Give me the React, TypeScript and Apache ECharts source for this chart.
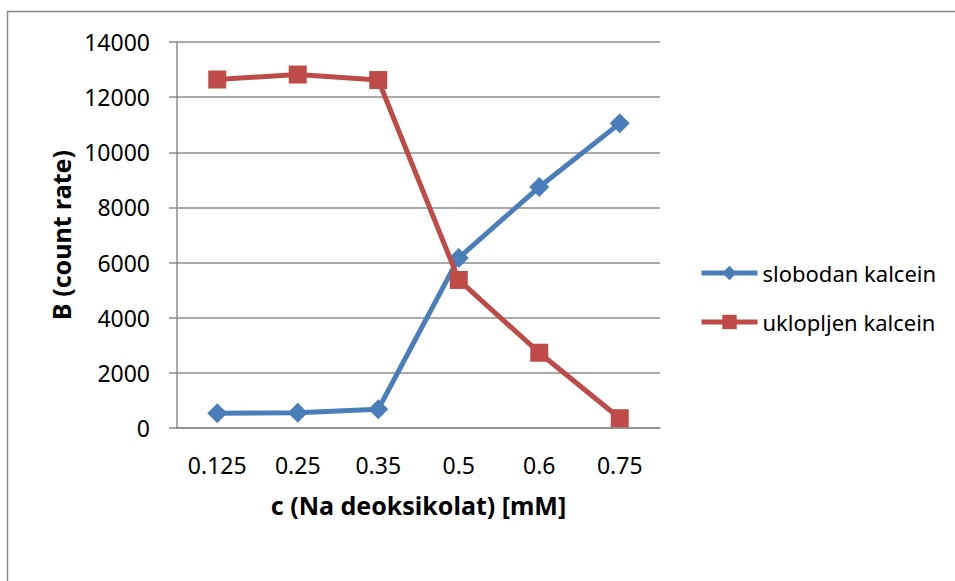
import React, { useEffect, useRef } from "react";
import * as echarts from "echarts";

const categories = ["0.125", "0.25", "0.35", "0.5", "0.6", "0.75"];
const slobodan = [535, 550, 680, 6170, 8740, 11050];
const uklopljen = [12640, 12820, 12620, 5370, 2730, 355];
const seriesNames = ["slobodan kalcein", "uklopljen kalcein"];
const xTitle = "c (Na deoksikolat) [mM]";
const yTitle = "B (count rate)";

const FONT = "'Noto Sans', 'Open Sans', sans-serif";

export default function App() {
  const ref = useRef<HTMLDivElement>(null);
  useEffect(() => {
    if (!ref.current) return;
    const chart = echarts.init(ref.current, undefined, { renderer: "svg" });
    chart.setOption({
      animation: false,
      backgroundColor: "#ffffff",
      textStyle: { fontFamily: FONT },
      graphic: [
        {
          type: "rect",
          shape: { x: 7.5, y: 11.5, width: 2000, height: 2000 },
          style: { fill: "none", stroke: "#8a8a8a", lineWidth: 1.5 },
          silent: true,
        },
      ],
      grid: { left: 177, right: 295, top: 42, bottom: 153, containLabel: false },
      legend: {
        orient: "vertical",
        left: 699,
        top: 262,
        padding: 0,
        itemWidth: 56,
        itemHeight: 18,
        itemGap: 27,
        data: seriesNames,
        lineStyle: { width: 5 },
        textStyle: { fontFamily: FONT, fontSize: 22, color: "#000", lineHeight: 22 },
      },
      xAxis: {
        type: "category",
        data: categories,
        boundaryGap: true,
        name: xTitle,
        nameLocation: "middle",
        nameGap: 64,
        nameTextStyle: { fontFamily: FONT, fontSize: 25, fontWeight: "bold", color: "#000" },
        axisLine: { lineStyle: { color: "#8c8c8c", width: 1.5 } },
        axisTick: { show: false },
        axisLabel: { fontFamily: FONT, fontSize: 23, color: "#000", margin: 25 },
      },
      yAxis: {
        type: "value",
        min: 0,
        max: 14000,
        interval: 2000,
        name: yTitle,
        nameLocation: "middle",
        nameGap: 103,
        nameRotate: 90,
        nameTextStyle: { fontFamily: FONT, fontSize: 25, fontWeight: "bold", color: "#000" },
        axisLine: { show: true, lineStyle: { color: "#8c8c8c", width: 1.5 } },
        axisTick: { show: true, length: 8, lineStyle: { color: "#8c8c8c", width: 1.5 } },
        splitLine: { show: true, lineStyle: { color: "#8c8c8c", width: 1.5 } },
        axisLabel: {
          fontFamily: FONT,
          fontSize: 23,
          color: "#000",
          margin: 27,
          formatter: (v: number) => String(v),
        },
      },
      series: [
        {
          name: seriesNames[0],
          type: "line",
          data: slobodan,
          symbol: "diamond",
          symbolSize: 20,
          lineStyle: { color: "#4a7ebb", width: 5 },
          itemStyle: { color: "#4a7ebb" },
          z: 3,
        },
        {
          name: seriesNames[1],
          type: "line",
          data: uklopljen,
          symbol: "rect",
          symbolSize: 18,
          lineStyle: { color: "#be4b48", width: 5 },
          itemStyle: { color: "#be4b48" },
          z: 4,
        },
      ],
    });
    return () => chart.dispose();
  }, []);
  return (
    <div style={{ position: "fixed", left: 0, top: 0, width: 955, height: 581, background: "#fff" }}>
      <div ref={ref} style={{ width: 955, height: 581 }} />
    </div>
  );
}
